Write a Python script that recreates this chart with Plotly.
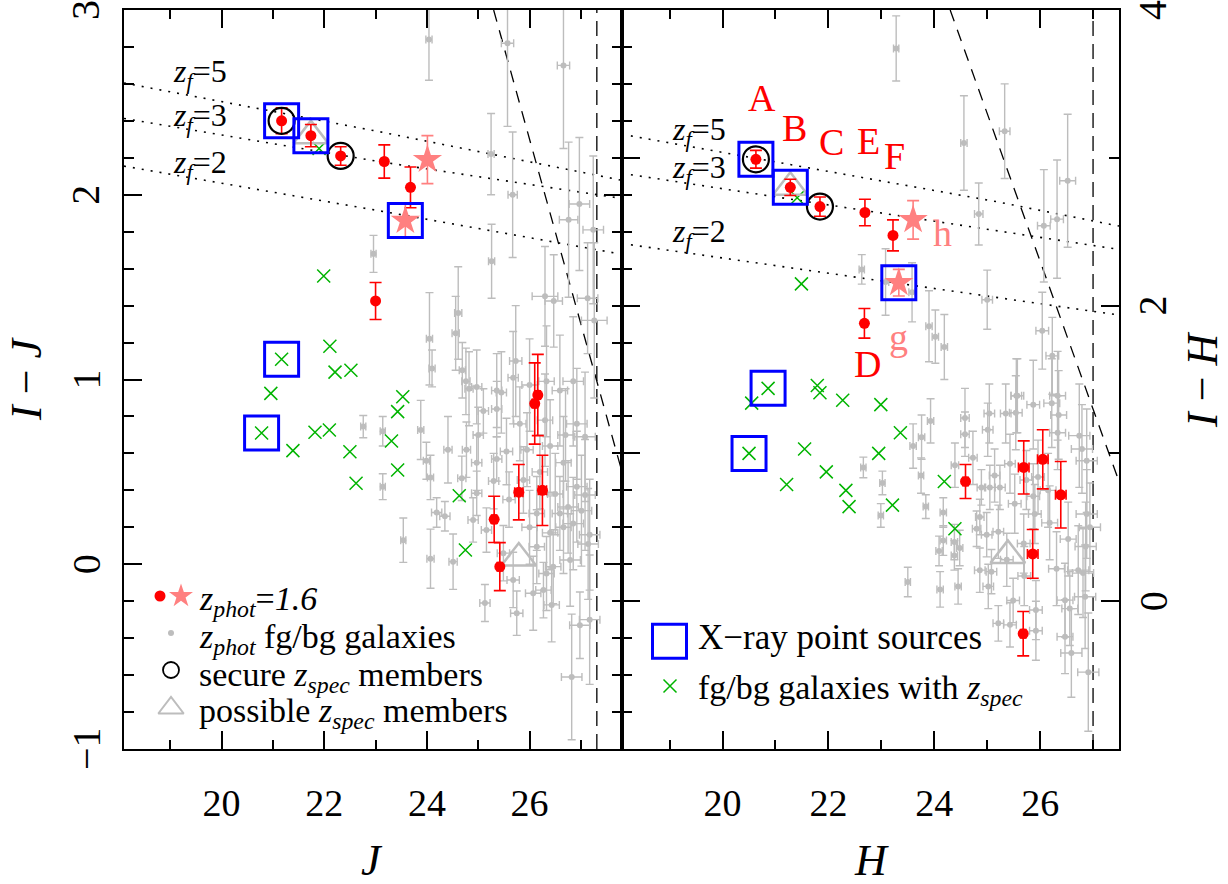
import plotly.graph_objects as go

W, H = 1228, 884
FONT = "Liberation Serif"

# ======================= DATA =======================
# ---- Left panel: J vs I-J ----
red_j      = [21.17, 21.74, 22.32, 23.17, 23.68, 23.00, 26.16, 26.10, 25.79, 26.25, 25.31, 25.42]
red_ij     = [2.40, 2.32, 2.21, 2.18, 2.04, 1.425, 0.916, 0.87, 0.39, 0.40, 0.243, -0.013]
red_ij_err = [0.07, 0.06, 0.05, 0.09, 0.11, 0.10, 0.22, 0.22, 0.15, 0.19, 0.125, 0.13]
red_j_err  = [0, 0, 0, 0, 0, 0, 0.05, 0.05, 0.08, 0.08, 0.05, 0.05]

pink_j      = [24.01, 23.58]
pink_ij     = [2.19, 1.86]
pink_ij_err = [0.13, 0.09]

secure_j  = [21.17, 22.32]
secure_ij = [2.40, 2.21]
possible_j  = [21.74, 25.79]
possible_ij = [2.32, 0.034]
xray_j  = [21.17, 21.74, 23.58, 21.17, 20.78]
xray_ij = [2.40, 2.32, 1.86, 1.11, 0.71]

green_j  = [21.99, 22.11, 22.21, 22.52, 21.17, 20.96, 20.78, 21.39, 21.82, 22.10, 22.50, 22.62,
            23.53, 23.43, 23.31, 23.43, 24.63, 24.75, 21.90]
green_ij = [1.56, 1.18, 1.04, 1.05, 1.11, 0.925, 0.71, 0.615, 0.714, 0.727, 0.609, 0.438,
            0.907, 0.826, 0.667, 0.51, 0.371, 0.077, 2.25]

gray_j = [24.04, 25.57, 26.66, 25.25, 25.67, 25.26, 26.76, 26.97, 27.24, 26.30, 26.47, 27.13, 27.26,
          24.05, 24.10, 24.61, 24.56, 24.69, 22.96, 24.76, 24.82, 24.97, 25.45, 25.68, 25.73, 26.33, 26.85,
          22.76, 23.14, 23.14, 23.88, 23.99, 24.07, 23.54, 24.07, 24.41, 24.68, 24.77, 24.97, 24.51, 24.19,
          24.35, 25.13, 25.75, 26.27, 26.43, 26.98, 26.82, 27.17, 26.85, 27.08, 27.08, 27.14, 25.10, 25.36,
          25.36, 25.55, 25.68, 26.14, 26.40, 26.66, 26.40, 26.59, 26.14, 26.79, 25.88, 24.97, 24.90, 25.16,
          25.49, 26.33, 26.59, 26.00, 25.36, 25.81, 26.92, 26.46, 26.07, 26.66, 26.92, 26.75, 27.01, 27.17,
          25.60, 25.95, 26.20, 26.50, 25.30, 26.00, 26.70, 25.00, 26.30]
gray_ij = [2.84, 2.82, 2.70, 2.22, 2.00, 1.64, 1.865, 1.95, 1.81, 1.45, 1.425, 1.44, 1.32,
           1.22, 1.06, 1.36, 1.25, 1.05, 1.68, 0.99, 0.95, 0.96, 0.93, 1.01, 1.10, 0.99, 0.99,
           0.745, 0.72, 0.42, 0.727, 0.56, 0.47, 0.13, 0.03, 0.62, 0.465, 0.62, 0.55, 0.014, 0.28,
           0.26, -0.21, -0.265, -0.14, -0.22, -0.33, -0.61, -0.30, 0.22, 0.69, 0.375, 0.11, 0.83, 0.84,
           0.57, 0.61, -0.085, 0.275, 0.17, 0.55, 0.64, 0.275, 0.095, 0.023, 0.456, 0.384, 0.24, 0.185,
           0.06, -0.05, 0.94, 0.97, 0.94, 0.76, 0.76, -0.013, -0.157, 0.20, 0.42, 0.31, 0.29, 0.16,
           0.35, 0.62, 0.50, 0.38, 0.45, 0.20, 0.70, 0.70, 0.78]
gray_j_err = [0.06, 0.12, 0.12, 0.06, 0.09, 0.06, 0.18, 0.20, 0.20, 0.25, 0.17, 0.20, 0.25,
              0.06, 0.06, 0.07, 0.07, 0.06, 0.05, 0.08, 0.08, 0.10, 0.10, 0.10, 0.12, 0.15, 0.20,
              0.05, 0.05, 0.05, 0.06, 0.06, 0.06, 0.05, 0.07, 0.08, 0.08, 0.08, 0.10, 0.08, 0.10,
              0.10, 0.10, 0.12, 0.15, 0.15, 0.20, 0.20, 0.20, 0.20, 0.20, 0.20, 0.20, 0.10, 0.10,
              0.10, 0.12, 0.12, 0.15, 0.15, 0.15, 0.15, 0.15, 0.15, 0.20, 0.12, 0.10, 0.10, 0.10,
              0.12, 0.15, 0.15, 0.15, 0.10, 0.12, 0.20, 0.15, 0.15, 0.15, 0.20, 0.20, 0.20, 0.20,
              0.12, 0.12, 0.15, 0.15, 0.10, 0.15, 0.15, 0.10, 0.15]
gray_ij_err = [0.22, 0.45, 0.45, 0.22, 0.34, 0.20, 0.42, 0.36, 0.40, 0.27, 0.25, 0.30, 0.42,
               0.25, 0.10, 0.25, 0.20, 0.15, 0.10, 0.18, 0.20, 0.20, 0.22, 0.25, 0.30, 0.30, 0.35,
               0.06, 0.08, 0.07, 0.16, 0.10, 0.12, 0.12, 0.16, 0.18, 0.12, 0.15, 0.15, 0.15, 0.08,
               0.08, 0.10, 0.12, 0.15, 0.20, 0.18, 0.34, 0.35, 0.25, 0.35, 0.30, 0.30, 0.12, 0.15,
               0.12, 0.18, 0.15, 0.20, 0.20, 0.25, 0.25, 0.20, 0.20, 0.25, 0.18, 0.12, 0.12, 0.12,
               0.15, 0.20, 0.30, 0.25, 0.20, 0.20, 0.30, 0.20, 0.20, 0.25, 0.30, 0.25, 0.30, 0.30,
               0.15, 0.20, 0.20, 0.22, 0.15, 0.20, 0.25, 0.15, 0.25]

# model tracks (z_f) and limits, left panel
zf5_j = [18.10, 23.08, 27.80];  zf5_ij = [2.605, 2.341, 2.078]
zf3_j = [18.10, 23.08, 27.80];  zf3_ij = [2.413, 2.179, 1.980]
zf2_j = [18.10, 23.18, 27.80];  zf2_ij = [2.155, 1.908, 1.678]
lim_diag_j = [25.30, 27.80];    lim_diag_ij = [3.00, 0.50]
lim_vert_j = [27.31, 27.31];    lim_vert_ij = [-1.0, 3.0]
ij_ticks = [-1, 0, 1, 2, 3]
ij_tick_text = ["\u22121", "0", "1", "2", "3"]

# ---- Right panel: H vs I-H ----
red_h      = [20.63, 21.28, 21.84, 22.69, 23.22, 22.68, 24.59, 25.69, 26.05, 26.39, 25.86, 25.68]
red_ih     = [2.99, 2.80, 2.67, 2.63, 2.475, 1.88, 0.81, 0.905, 0.96, 0.72, 0.32, -0.22]
red_ih_err = [0.06, 0.055, 0.065, 0.09, 0.105, 0.10, 0.115, 0.18, 0.20, 0.225, 0.165, 0.15]
red_h_err  = [0, 0, 0, 0, 0, 0, 0.05, 0.10, 0.10, 0.10, 0.10, 0.05]

pink_h      = [23.60, 23.33]
pink_ih     = [2.58, 2.155]
pink_ih_err = [0.13, 0.09]

secure_h  = [20.63, 21.84]
secure_ih = [2.99, 2.67]
possible_h  = [21.28, 25.39]
possible_ih = [2.80, 0.31]
xray_h  = [20.63, 21.28, 23.33, 20.86, 20.50]
xray_ih = [2.99, 2.80, 2.155, 1.44, 1.00]

green_h  = [21.49, 21.41, 20.86, 20.55, 21.79, 21.84, 22.27, 22.99, 20.50, 21.55, 23.36, 22.95,
            21.96, 21.21, 22.33, 22.39, 23.21, 24.19, 24.39]
green_ih = [2.147, 2.73, 1.44, 1.34, 1.46, 1.41, 1.36, 1.33, 1.00, 1.03, 1.14, 1.00,
            0.875, 0.79, 0.75, 0.64, 0.65, 0.81, 0.49]

gray_h = [23.28, 24.56, 24.84, 22.63, 23.08, 23.58, 25.00, 23.90, 24.02, 24.19, 25.33, 26.52, 26.07,
          26.32, 26.04, 26.23, 25.55, 26.33,
          22.66, 23.02, 22.99, 23.50, 23.60, 23.76, 23.93, 23.75, 23.84, 24.17, 24.09, 24.17, 24.38,
          24.38, 24.11, 24.45, 24.48, 24.39, 24.58, 24.58, 24.73, 25.04, 25.01, 25.35, 25.54, 25.57,
          25.87, 26.22, 26.35, 26.33, 26.74, 26.79, 26.88, 26.88, 26.94, 26.86, 26.72, 26.53, 26.31,
          26.18, 25.90, 25.52, 25.24, 25.05, 24.89, 24.80, 24.99, 24.86, 25.02, 25.21, 25.43, 25.49,
          25.70, 25.92, 25.92, 26.47, 26.56, 26.47, 26.59, 26.91, 26.81, 26.85, 25.69, 25.37, 25.08,
          25.21, 25.74, 25.96, 25.43, 25.14, 24.86, 26.15, 25.87]
gray_ih = [3.74, 3.10, 2.62, 2.245, 2.16, 2.09, 2.04, 1.86, 1.79, 1.72, 3.18, 2.845, 2.54,
           2.585, 1.83, 1.66, 1.39, 1.39,
           0.905, 0.80, 0.58, 0.13, 1.05, 1.11, 1.22, 0.85, 0.64, 0.60, 0.34, 0.41, 0.40,
           0.31, 0.08, 0.10, 0.36, 0.92, 1.24, 1.13, 0.97, 1.27, 1.16, 1.27, 1.275, 1.39,
           1.33, 1.34, 1.26, 1.14, 1.12, 1.03, 0.95, 0.59, 0.50, 0.37, 0.21, 0.42, 0.22,
           0.53, 0.59, 0.66, 0.77, 0.77, 0.77, 0.49, 0.45, 0.21, 0.10, -0.15, -0.16, 0.005,
           0.17, -0.06, -0.20, 0.007, -0.05, -0.24, -0.35, -0.48, 0.19, 0.03, 0.39, 0.28, 0.20,
           0.47, 0.82, 0.84, 0.93, 0.85, 0.57, 0.75, 0.71]
gray_h_err = [0.05, 0.06, 0.08, 0.05, 0.06, 0.06, 0.10, 0.06, 0.06, 0.06, 0.10, 0.15, 0.12,
              0.12, 0.12, 0.12, 0.10, 0.15,
              0.05, 0.05, 0.05, 0.05, 0.06, 0.06, 0.06, 0.05, 0.05, 0.06, 0.06, 0.06, 0.06,
              0.06, 0.06, 0.06, 0.06, 0.07, 0.08, 0.08, 0.08, 0.10, 0.10, 0.10, 0.12, 0.12,
              0.12, 0.15, 0.15, 0.15, 0.20, 0.20, 0.20, 0.20, 0.20, 0.20, 0.20, 0.15, 0.15,
              0.15, 0.12, 0.12, 0.10, 0.10, 0.08, 0.08, 0.10, 0.10, 0.10, 0.10, 0.12, 0.12,
              0.12, 0.12, 0.12, 0.15, 0.15, 0.15, 0.20, 0.20, 0.20, 0.20, 0.12, 0.12, 0.10,
              0.10, 0.12, 0.12, 0.10, 0.10, 0.08, 0.15, 0.12]
gray_ih_err = [0.22, 0.32, 0.21, 0.10, 0.225, 0.20, 0.20, 0.24, 0.18, 0.22, 0.32, 0.45, 0.38,
               0.40, 0.26, 0.26, 0.25, 0.30,
               0.07, 0.08, 0.08, 0.10, 0.15, 0.15, 0.15, 0.12, 0.08, 0.10, 0.10, 0.10, 0.12,
               0.10, 0.12, 0.12, 0.12, 0.15, 0.20, 0.15, 0.18, 0.20, 0.18, 0.20, 0.25, 0.25,
               0.30, 0.30, 0.30, 0.25, 0.35, 0.30, 0.35, 0.30, 0.30, 0.30, 0.30, 0.25, 0.25,
               0.25, 0.20, 0.20, 0.15, 0.15, 0.12, 0.12, 0.15, 0.15, 0.15, 0.12, 0.15, 0.15,
               0.20, 0.20, 0.20, 0.25, 0.25, 0.25, 0.30, 0.40, 0.30, 0.35, 0.20, 0.18, 0.15,
               0.18, 0.20, 0.25, 0.20, 0.18, 0.12, 0.25, 0.22]

zf5_h = [18.10, 25.18, 27.49];  zf5_ih = [3.159, 2.703, 2.538]
zf3_h = [18.10, 27.49];         zf3_ih = [2.895, 2.380]
zf2_h = [18.10, 27.49];         zf2_ih = [2.420, 1.936]
lim_diag_h = [24.30, 27.49];    lim_diag_ih = [4.00, 0.81]
lim_vert_h = [27.00, 27.00];    lim_vert_ih = [-1.0, 4.0]
ih_ticks = [0, 2, 4]
ih_tick_text = ["0", "2", "4"]

# ======================= STYLE =======================
GRAY = "#bdbdbd"
RED = "#ff0000"
PINK = "#ff8080"
GREEN = "#00b400"
BLUE = "#0000ff"

fig = go.Figure()


def add_panel(xa, ya, gx, gy, gxe, gye, gnx, gny, rx, ry, rye, rxe, px, py, pye,
              sx, sy, tx, ty, bx, by, tracks, diag, vert):
    for (lx, ly) in tracks:
        fig.add_trace(go.Scatter(x=lx, y=ly, mode="lines", xaxis=xa, yaxis=ya,
                                 line=dict(color="black", width=1.6, dash="2px,7px")))
    fig.add_trace(go.Scatter(x=diag[0], y=diag[1], mode="lines", xaxis=xa, yaxis=ya,
                             line=dict(color="black", width=1.3, dash="12px,9px")))
    fig.add_trace(go.Scatter(x=vert[0], y=vert[1], mode="lines", xaxis=xa, yaxis=ya,
                             line=dict(color="black", width=1.3, dash="15px,8px")))
    fig.add_trace(go.Scatter(x=gx, y=gy, mode="markers", xaxis=xa, yaxis=ya,
                             marker=dict(color=GRAY, size=6),
                             error_x=dict(type="data", array=gxe, color=GRAY, thickness=1.4, width=4),
                             error_y=dict(type="data", array=gye, color=GRAY, thickness=1.4, width=4)))
    fig.add_trace(go.Scatter(x=gnx, y=gny, mode="markers", xaxis=xa, yaxis=ya,
                             marker=dict(symbol="x-thin-open", size=13, color=GREEN,
                                         line=dict(color=GREEN, width=1.5))))
    fig.add_trace(go.Scatter(x=tx, y=ty, mode="markers", xaxis=xa, yaxis=ya,
                             marker=dict(symbol="triangle-up-open", size=30, color=GRAY,
                                         line=dict(color=GRAY, width=2.5))))
    fig.add_trace(go.Scatter(x=rx, y=ry, mode="markers", xaxis=xa, yaxis=ya,
                             marker=dict(color=RED, size=11),
                             error_x=dict(type="data", array=rxe, color=RED, thickness=1.6, width=5),
                             error_y=dict(type="data", array=rye, color=RED, thickness=1.6, width=6)))
    fig.add_trace(go.Scatter(x=px, y=py, mode="markers", xaxis=xa, yaxis=ya,
                             marker=dict(symbol="star", color=PINK, size=22),
                             error_y=dict(type="data", array=pye, color=PINK, thickness=1.6, width=6)))
    fig.add_trace(go.Scatter(x=sx, y=sy, mode="markers", xaxis=xa, yaxis=ya,
                             marker=dict(symbol="circle-open", size=26, color="black",
                                         line=dict(color="black", width=2.2))))
    fig.add_trace(go.Scatter(x=bx, y=by, mode="markers", xaxis=xa, yaxis=ya,
                             marker=dict(symbol="square-open", size=34, color=BLUE,
                                         line=dict(color=BLUE, width=3))))


add_panel("x", "y", gray_j, gray_ij, gray_j_err, gray_ij_err, green_j, green_ij,
          red_j, red_ij, red_ij_err, red_j_err, pink_j, pink_ij, pink_ij_err,
          secure_j, secure_ij, possible_j, possible_ij, xray_j, xray_ij,
          [(zf5_j, zf5_ij), (zf3_j, zf3_ij), (zf2_j, zf2_ij)],
          (lim_diag_j, lim_diag_ij), (lim_vert_j, lim_vert_ij))
add_panel("x2", "y2", gray_h, gray_ih, gray_h_err, gray_ih_err, green_h, green_ih,
          red_h, red_ih, red_ih_err, red_h_err, pink_h, pink_ih, pink_ih_err,
          secure_h, secure_ih, possible_h, possible_ih, xray_h, xray_ih,
          [(zf5_h, zf5_ih), (zf3_h, zf3_ih), (zf2_h, zf2_ih)],
          (lim_diag_h, lim_diag_ih), (lim_vert_h, lim_vert_ih))

# invisible trace so the right-hand I-H axis is rendered
fig.add_trace(go.Scatter(x=lim_vert_h, y=lim_vert_ih, mode="lines", xaxis="x2", yaxis="y3",
                         line=dict(color="rgba(0,0,0,0)", width=0), hoverinfo="skip"))

# ---- legend keys (drawn on a full-figure pixel overlay) ----
def key(px, py, **m):
    fig.add_trace(go.Scatter(x=px, y=py, mode="markers", xaxis="x4", yaxis="y4",
                             marker=m, cliponaxis=False))

key([160], [596], color=RED, size=11)
key([181], [596], symbol="star", color=PINK, size=18)
key([171], [633], color=GRAY, size=6)
key([171], [670], symbol="circle-open", size=16, color="black", line=dict(color="black", width=1.8))
key([171], [708], symbol="triangle-up-open", size=22, color=GRAY, line=dict(color=GRAY, width=2))
key([669.5], [641.3], symbol="square-open", size=34, color=BLUE, line=dict(color=BLUE, width=3))
key([670], [686], symbol="x-thin-open", size=13, color=GREEN, line=dict(color=GREEN, width=1.5))

# ======================= LAYOUT =======================
X0, XM, X1 = 124 / W, 622 / W, 1119 / W
Y0, Y1 = 1 - 749 / H, 1 - 10 / H
tickfont = dict(family=FONT, size=38, color="black")
axis_common = dict(showline=True, linecolor="black", linewidth=1.5, ticks="inside",
                   tickcolor="black", tickwidth=1.5, showgrid=False, zeroline=False,
                   tickfont=tickfont, fixedrange=True, ticklabeloverflow="allow")

xa = dict(axis_common, range=[18.1, 27.8], domain=[X0, XM], anchor="y", mirror="ticks",
          tickmode="linear", tick0=0, dtick=2, ticklen=18, ticklabelstandoff=20,
          minor=dict(ticks="inside", tickmode="linear", tick0=0, dtick=1, ticklen=9,
                     tickcolor="black", tickwidth=1.5, showgrid=False))
xa2 = dict(axis_common, range=[18.1, 27.49], domain=[XM, X1], anchor="y2", mirror="ticks",
           tickmode="linear", tick0=0, dtick=2, ticklen=18, ticklabelstandoff=20,
           minor=dict(ticks="inside", tickmode="linear", tick0=0, dtick=1, ticklen=9,
                      tickcolor="black", tickwidth=1.5, showgrid=False))
ya = dict(axis_common, range=[-1, 3], domain=[Y0, Y1], anchor="x", mirror="ticks",
          tickmode="array", tickvals=ij_ticks, ticklen=18, showticklabels=False,
          minor=dict(ticks="inside", tickmode="linear", tick0=0, dtick=0.2, ticklen=10,
                     tickcolor="black", tickwidth=1.5, showgrid=False))
ya2 = dict(axis_common, range=[-1, 4], domain=[Y0, Y1], anchor="x2", mirror=True,
           tickmode="linear", tick0=0, dtick=1, ticklen=18, showticklabels=False,
           minor=dict(ticks="inside", tickmode="linear", tick0=0, dtick=0.25, ticklen=10,
                      tickcolor="black", tickwidth=1.5, showgrid=False))
ya3 = dict(axis_common, range=[-1, 4], overlaying="y2", side="right", anchor="x2",
           showline=False, tickmode="array", tickvals=ih_ticks, ticklen=18, showticklabels=False,
           minor=dict(ticks="inside", tickmode="array", tickvals=[1, 3], ticklen=10,
                      tickcolor="black", tickwidth=1.5, showgrid=False))

fig.update_layout(
    width=W, height=H, margin=dict(l=0, r=0, t=0, b=0),
    paper_bgcolor="white", plot_bgcolor="rgba(0,0,0,0)", showlegend=False,
    xaxis=xa, yaxis=ya, xaxis2=xa2, yaxis2=ya2, yaxis3=ya3,
    xaxis4=dict(domain=[0, 1], range=[0, W], visible=False, anchor="y4", fixedrange=True),
    yaxis4=dict(domain=[0, 1], range=[H, 0], visible=False, anchor="x4", fixedrange=True),
)


def ann(text, px, py, size=32, color="black", xanchor="center", yanchor="middle", angle=0):
    fig.add_annotation(text=text, x=px / W, y=1 - py / H, xref="paper", yref="paper",
                       showarrow=False, xanchor=xanchor, yanchor=yanchor, textangle=angle,
                       font=dict(family=FONT, size=size, color=color))


# rotated y tick labels (placed at the axis values)
for v, t in zip(ij_ticks, ij_tick_text):
    fig.add_annotation(text=t, x=86 / W, xref="paper", y=v, yref="y", showarrow=False,
                       textangle=-90, xanchor="center", yanchor="middle",
                       font=dict(family=FONT, size=40, color="black"))
for v, t in zip(ih_ticks, ih_tick_text):
    fig.add_annotation(text=t, x=1153 / W, xref="paper", y=v, yref="y2", showarrow=False,
                       textangle=-90, xanchor="center", yanchor="middle",
                       font=dict(family=FONT, size=40, color="black"))

zf = "<i>z</i><sub><i>f</i></sub>=%s"
ann(zf % "5", 171, 73, size=32, xanchor="left")
ann(zf % "3", 171, 118, size=32, xanchor="left")
ann(zf % "2", 171, 164, size=32, xanchor="left")
ann(zf % "5", 670, 131, size=32, xanchor="left")
ann(zf % "3", 670, 169, size=32, xanchor="left")
ann(zf % "2", 670, 234, size=32, xanchor="left")

for t, x, y, c in [("A", 761.5, 98, RED), ("B", 794, 128, RED), ("C", 831, 142, RED),
                   ("E", 868, 141, RED), ("F", 894, 156, RED), ("h", 942, 233, PINK),
                   ("g", 898, 337, PINK), ("D", 867, 364, RED)]:
    ann(t, x, y, size=38, color=c)

ann("<i>z</i><sub><i>phot</i></sub>=<i>1.6</i>", 197, 601, size=34, xanchor="left")
ann("<i>z</i><sub><i>phot</i></sub> fg/bg galaxies", 197, 639, size=34, xanchor="left")
ann("secure <i>z</i><sub><i>spec</i></sub> members", 197, 677, size=34, xanchor="left")
ann("possible <i>z</i><sub><i>spec</i></sub> members", 197, 713, size=34, xanchor="left")
ann("X\u2212ray point sources", 696, 637, size=35, xanchor="left")
ann("fg/bg galaxies with <i>z</i><sub><i>spec</i></sub>", 696, 690, size=34, xanchor="left")

ann("<i>I</i> \u2212 <i>J</i>", 26, 379, size=44, angle=-90)
ann("<i>I</i> \u2212 <i>H</i>", 1202, 380, size=44, angle=-90)
ann("<i>J</i>", 372, 860, size=44)
ann("<i>H</i>", 871, 860, size=44)

fig.write_html("out.html")
